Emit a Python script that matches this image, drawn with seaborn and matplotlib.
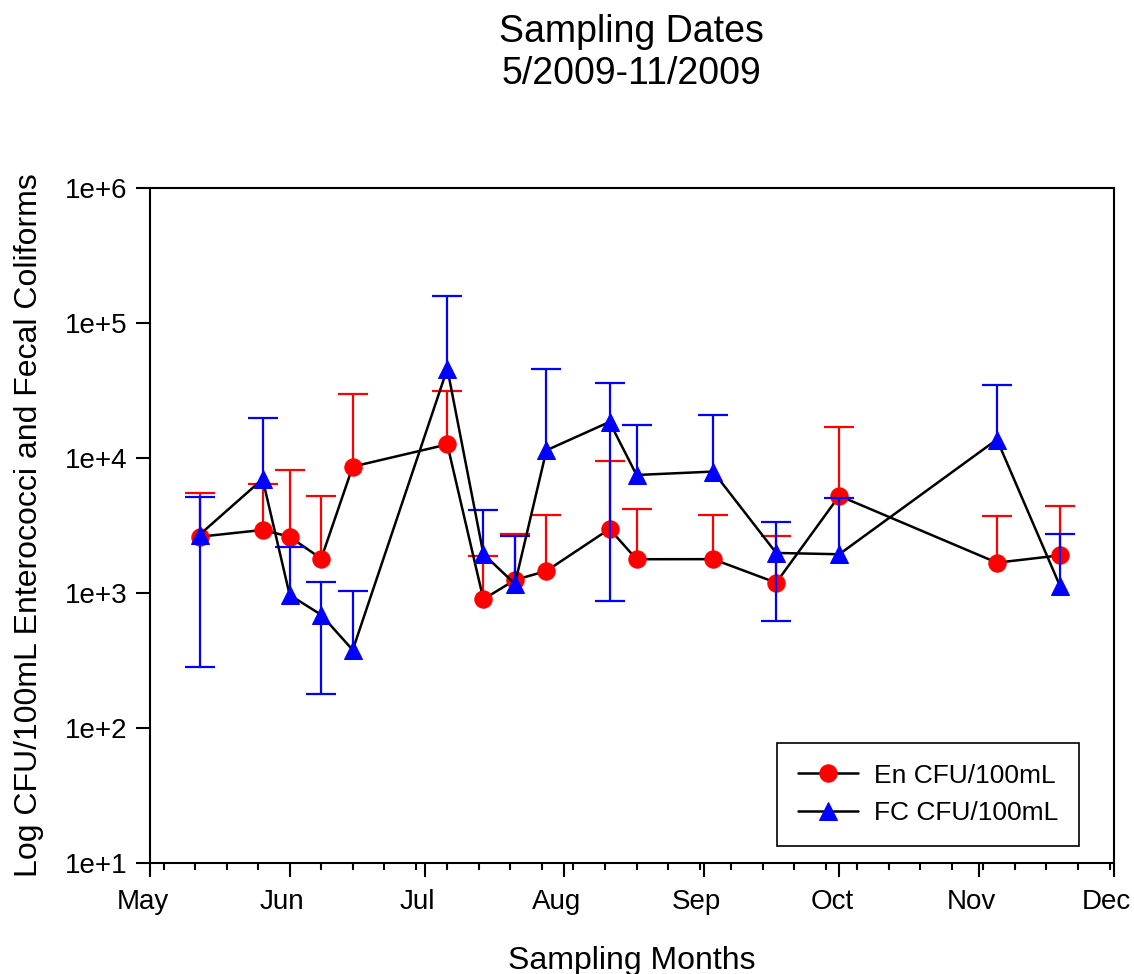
import numpy as np
import pandas as pd
import matplotlib
matplotlib.use("Agg")
import matplotlib.pyplot as plt
import matplotlib.dates as mdates
import matplotlib.transforms as mtransforms
from matplotlib.ticker import FixedLocator, FuncFormatter, NullLocator
import seaborn as sns

# Sampling dates (2009)
sample_dates = ["2009-05-12", "2009-05-26", "2009-06-01", "2009-06-08", "2009-06-15",
                "2009-07-06", "2009-07-14", "2009-07-21", "2009-07-28", "2009-08-11",
                "2009-08-17", "2009-09-03", "2009-09-17", "2009-10-01", "2009-11-05",
                "2009-11-19"]

# Enterococci (mean and standard deviation, CFU/100mL)
en_mean = [2610, 2930, 2610, 1795, 8630, 12600, 898, 1248, 1456, 2980,
           1778, 1780, 1191, 5240, 1676, 1900]
en_sd = [2920, 3480, 5570, 3405, 21170, 18700, 982, 1487, 2314, 6520,
         2412, 1990, 1449, 11860, 2064, 2510]

# Fecal coliforms (mean and standard deviation, CFU/100mL)
fc_mean = [2700, 6980, 966, 689, 378, 45900, 1944, 1167, 11400, 18490,
           7480, 7930, 1979, 1936, 13700, 1128]
fc_sd = [2418, 12920, 1234, 511, 657, 112600, 2176, 1473, 34000, 17620,
         10020, 12870, 1361, 3144, 20800, 1592]

y_ticks = [1e1, 1e2, 1e3, 1e4, 1e5, 1e6]
month_labels = ["May", "Jun", "Jul", "Aug", "Sep", "Oct", "Nov", "Dec"]

sns.set_style("ticks")
plt.rcParams["font.family"] = ["Liberation Sans", "DejaVu Sans"]
for key in ["text.color", "axes.labelcolor", "xtick.color", "ytick.color",
            "xtick.labelcolor", "ytick.labelcolor", "axes.edgecolor"]:
    plt.rcParams[key] = "black"

dates = pd.to_datetime(sample_dates)
df_en = pd.DataFrame({"date": dates, "value": en_mean, "sd": en_sd})
df_fc = pd.DataFrame({"date": dates, "value": fc_mean, "sd": fc_sd})

fig = plt.figure(figsize=(11.34, 9.74), dpi=100)
ax = fig.add_axes([0.1323, 0.1140, 0.8501, 0.6930])

BAR_LW = 1.6
CAP_SIZE = 21


def draw_series(df, color, marker, label, z):
    x = df["date"]
    mean = df["value"].to_numpy(dtype=float)
    sd = df["sd"].to_numpy(dtype=float)
    top = mean + sd
    # upper bars always; lower bars only where the lower limit stays positive
    ax.vlines(x, mean, top, colors=color, linewidth=BAR_LW, zorder=z)
    ax.plot(x, top, linestyle="none", marker="_", markersize=CAP_SIZE,
            markeredgewidth=BAR_LW, color=color, zorder=z)
    has_low = mean - sd > 0
    if has_low.any():
        xl = x[has_low]
        low = (mean - sd)[has_low]
        ax.vlines(xl, low, mean[has_low], colors=color, linewidth=BAR_LW, zorder=z)
        ax.plot(xl, low, linestyle="none", marker="_", markersize=CAP_SIZE,
                markeredgewidth=BAR_LW, color=color, zorder=z)
    sns.lineplot(data=df, x="date", y="value", ax=ax, color="black", linewidth=1.8,
                 marker=marker, markersize=12.5, markerfacecolor=color,
                 markeredgecolor=color, label=label, zorder=z + 1)


draw_series(df_en, "#ff0000", "o", "En CFU/100mL", 2)
draw_series(df_fc, "#0000ff", "^", "FC CFU/100mL", 4)

ax.set_yscale("log")
ax.set_ylim(1e1, 1e6)
ax.yaxis.set_major_locator(FixedLocator(y_ticks))
ax.yaxis.set_major_formatter(FuncFormatter(lambda v, p: f"1e+{int(round(np.log10(v)))}"))
ax.yaxis.set_minor_locator(NullLocator())

month_ticks = pd.date_range("2009-05-01", "2009-12-01", freq="MS")
ax.set_xlim(pd.Timestamp("2009-05-01"), pd.Timestamp("2009-12-01"))
ax.xaxis.set_major_locator(FixedLocator(mdates.date2num(month_ticks)))
ax.set_xticklabels(month_labels)
ax.xaxis.set_minor_locator(mdates.WeekdayLocator(byweekday=mdates.MO))

ax.tick_params(axis="both", which="major", direction="out", length=10, width=1.5,
               labelsize=20, color="black", labelcolor="black")
ax.tick_params(axis="x", which="minor", direction="out", length=5, width=1.5, color="black")
ax.tick_params(axis="x", which="major", pad=9)
ax.tick_params(axis="y", which="major", pad=6)

# month names sit slightly left of their tick marks
shift = mtransforms.ScaledTranslation(-7.5 / 100, 0, fig.dpi_scale_trans)
for lbl in ax.get_xticklabels():
    lbl.set_transform(lbl.get_transform() + shift)

for side in ["left", "right", "top", "bottom"]:
    ax.spines[side].set_visible(True)
    ax.spines[side].set_color("black")
    ax.spines[side].set_linewidth(1.5)

ax.set_xlabel("Sampling Months", fontsize=23, labelpad=22)
ax.set_ylabel("Log CFU/100mL Enterococci and Fecal Coliforms", fontsize=23, labelpad=15)

fig.text(0.557, 1 - 53 / 974, "Sampling Dates\n5/2009-11/2009", ha="center", va="center",
         fontsize=27, linespacing=1.2)

leg = ax.legend(loc="lower right", bbox_to_anchor=(0.9637, 0.0252), borderaxespad=0,
                fontsize=19, frameon=True, fancybox=False, handlelength=2.25,
                borderpad=0.8, labelspacing=0.5, handletextpad=0.6)
leg.get_frame().set_edgecolor("black")
leg.get_frame().set_linewidth(1.2)
leg.get_frame().set_alpha(1)

fig.savefig("out.png", dpi=100)
